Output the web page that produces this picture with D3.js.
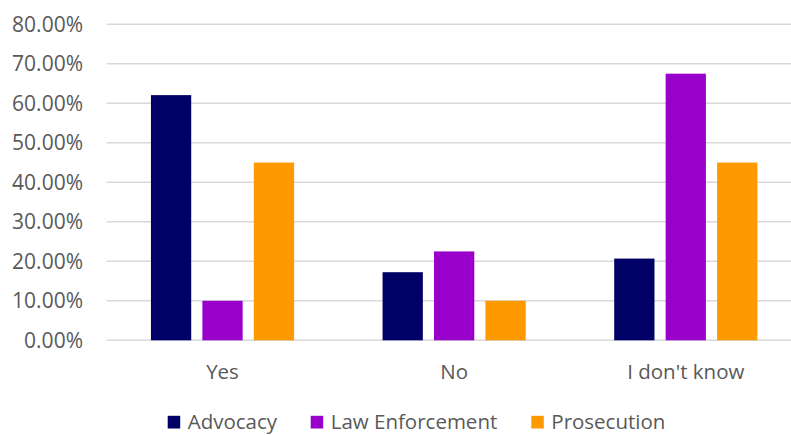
<!DOCTYPE html>
<html><head><meta charset="utf-8">
<script src="https://cdn.jsdelivr.net/npm/d3@7"></script>
<style>body{margin:0;background:#fff}</style>
</head><body>
<svg id="c" width="791" height="435"></svg>
<script>
const categories = ["Yes", "No", "I don't know"];
const seriesNames = ["Advocacy", "Law Enforcement", "Prosecution"];
const advocacy = [0.6207, 0.1724, 0.2069];
const lawEnforcement = [0.10, 0.225, 0.675];
const prosecution = [0.45, 0.10, 0.45];
const colors = ["#000066", "#9900cc", "#ff9900"];
const yTicks = [0, 0.1, 0.2, 0.3, 0.4, 0.5, 0.6, 0.7, 0.8];

(function () {
const series = [advocacy, lawEnforcement, prosecution];
const svg = d3.select("#c");
const font = "'Open Sans', sans-serif";
const pLeft = 106.7, pRight = 801.6, pTop = 24.3, pBottom = 340.3;

const x = d3.scaleBand().domain(categories).range([pLeft, pRight]).paddingInner(0).paddingOuter(0);
const y = d3.scaleLinear().domain([0, 0.8]).range([pBottom, pTop]);
const xs = d3.scaleBand().domain(seriesNames).range([0, x.bandwidth()]).paddingOuter(0.86).paddingInner(0.217);

svg.append("g").selectAll("line").data(yTicks).join("line")
  .attr("x1", pLeft).attr("x2", pRight)
  .attr("y1", d => y(d)).attr("y2", d => y(d))
  .attr("stroke", "#d9d9d9").attr("stroke-width", 1.5);

svg.append("g").selectAll("text").data(yTicks).join("text")
  .attr("x", 83).attr("y", d => y(d)).attr("dy", "0.35em")
  .attr("text-anchor", "end").attr("font-family", font).attr("font-size", 21)
  .attr("fill", "#595959").text(d => d3.format(".2%")(d));

const g = svg.append("g");
series.forEach((vals, si) => {
  g.append("g").selectAll("rect").data(categories).join("rect")
    .attr("x", c => x(c) + xs(seriesNames[si]))
    .attr("width", xs.bandwidth())
    .attr("y", (c, i) => y(vals[i]))
    .attr("height", (c, i) => y(0) - y(vals[i]))
    .attr("fill", colors[si]);
});

svg.append("g").selectAll("text").data(categories).join("text")
  .attr("x", c => x(c) + x.bandwidth() / 2).attr("y", 371.7).attr("dy", "0.35em")
  .attr("text-anchor", "middle").attr("font-family", font).attr("font-size", 20.5)
  .attr("fill", "#595959").text(c => c);

const legX = [167.7, 310.7, 531.3];
const leg = svg.append("g");
seriesNames.forEach((n, i) => {
  leg.append("rect").attr("x", legX[i]).attr("y", 415.8).attr("width", 12.5).attr("height", 12.7).attr("fill", colors[i]);
  leg.append("text").attr("x", legX[i] + 20).attr("y", 422.2).attr("dy", "0.35em")
    .attr("font-family", font).attr("font-size", 20.5).attr("fill", "#595959").text(n);
});
})();
</script>
</body></html>
